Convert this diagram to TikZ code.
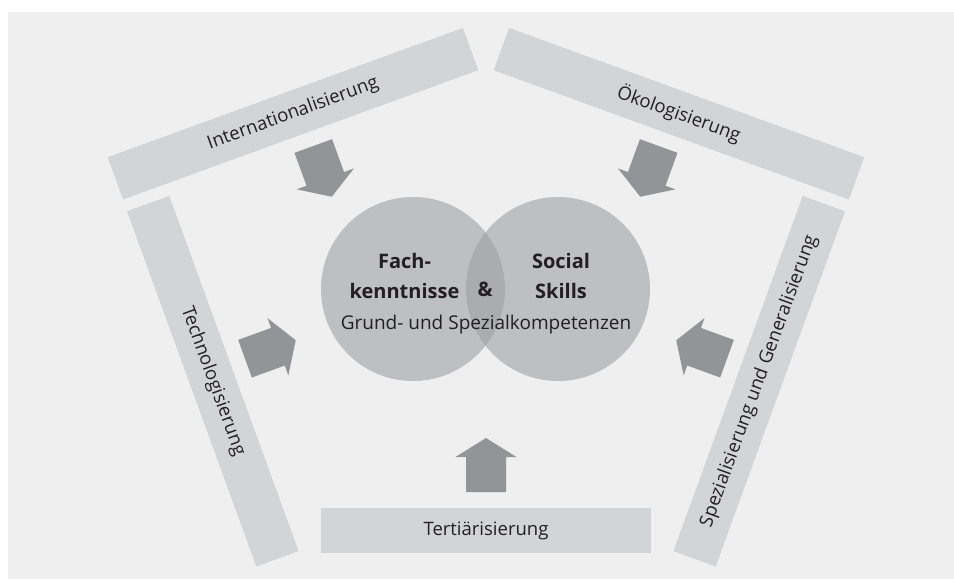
\documentclass[tikz,border=0pt]{standalone}
\usepackage{fontspec}
\setmainfont{Open Sans}
\definecolor{bgGray}{RGB}{239,239,239}
\definecolor{barGray}{RGB}{211,212,214}
\definecolor{arrowGray}{RGB}{147,148,151}
\definecolor{circGray}{RGB}{190,191,193}
\definecolor{lapGray}{RGB}{171,172,174}
\definecolor{inkGray}{RGB}{35,31,32}
\tikzset{every picture/.style={line width=0.75pt}}
\tikzset{
	trendbar/.style={rectangle, fill=barGray, draw=none, minimum width=378pt, minimum height=45pt, inner sep=0pt, text=inkGray, font=\fontsize{18.5}{22}\selectfont},
	blockarrow/.style={fill=arrowGray, draw=none},
	corelabel/.style={text=inkGray, font=\fontsize{20}{29.5}\selectfont\bfseries, inner sep=0pt},
	sublabel/.style={text=inkGray, font=\fontsize{19}{22}\selectfont, inner sep=0pt}}

\begin{document}
\begin{tikzpicture}[x=1pt,y=1pt,yscale=-1,xscale=1]
	\useasboundingbox (0,0) rectangle (954,579);
	%Shape: Rectangle [background]
	\fill [bgGray] (8,12) rectangle (954,579);

	%Shape: Bars of the pentagon
	\node [trendbar, rotate=20] (intl) at (293,113.7) {Internationalisierung};
	\node [trendbar, rotate=-20] (oeko) at (679,113.7) {Ökologisierung};
	\node [trendbar, rotate=-70] (tech) at (212.8,381.2) {Technologisierung};
	\node [trendbar, rotate=70] (spez) at (759.2,381.2) {Spezialisierung und Generalisierung};
	\node [trendbar, minimum width=330pt] (tert) at (486,530.5) {Tertiärisierung};

	%Shape: Circle [Fachkenntnisse]
	\node [circle, fill=circGray, minimum size=184pt, inner sep=0pt] (fach) at (413,289) {};
	%Shape: Circle [Social Skills]
	\node [circle, fill=circGray, minimum size=184pt, inner sep=0pt] (social) at (558,289) {};
	%Shape: Lens [overlap]
	\begin{scope}
		\clip (fach.center) circle (92);
		\fill [lapGray] (social.center) circle (92);
	\end{scope}

	%Shape: Block Arrow [Internationalisierung]
	\draw [blockarrow, shift={(313.3,146)}, rotate=70] (0,-20) -- (35,-20) -- (35,-30.5) -- (54,0) -- (35,30.5) -- (35,20) -- (0,20) -- cycle ;
	%Shape: Block Arrow [Ökologisierung]
	\draw [blockarrow, shift={(658.7,146)}, rotate=110] (0,-20) -- (35,-20) -- (35,-30.5) -- (54,0) -- (35,30.5) -- (35,20) -- (0,20) -- cycle ;
	%Shape: Block Arrow [Technologisierung]
	\draw [blockarrow, shift={(245,358.7)}, rotate=-20] (0,-20) -- (35,-20) -- (35,-30.5) -- (54,0) -- (35,30.5) -- (35,20) -- (0,20) -- cycle ;
	%Shape: Block Arrow [Spezialisierung]
	\draw [blockarrow, shift={(727,358.7)}, rotate=-160] (0,-20) -- (35,-20) -- (35,-30.5) -- (54,0) -- (35,30.5) -- (35,20) -- (0,20) -- cycle ;
	%Shape: Block Arrow [Tertiärisierung]
	\draw [blockarrow, shift={(486,492)}, rotate=-90] (0,-20) -- (35,-20) -- (35,-30.5) -- (54,0) -- (35,30.5) -- (35,20) -- (0,20) -- cycle ;

	% Text Node
	\node [corelabel, align=center] (fachtxt) at (404.5,276) {Fach-\\kenntnisse};
	% Text Node
	\node [corelabel, align=center] (socialtxt) at (561,276) {Social\\Skills};
	% Text Node
	\node [corelabel, anchor=base] (amp) at (485,296.7) {\&};
	% Text Node
	\node [sublabel, anchor=base] (grund) at (486,329) {Grund- und Spezialkompetenzen};

\end{tikzpicture}
\end{document}
